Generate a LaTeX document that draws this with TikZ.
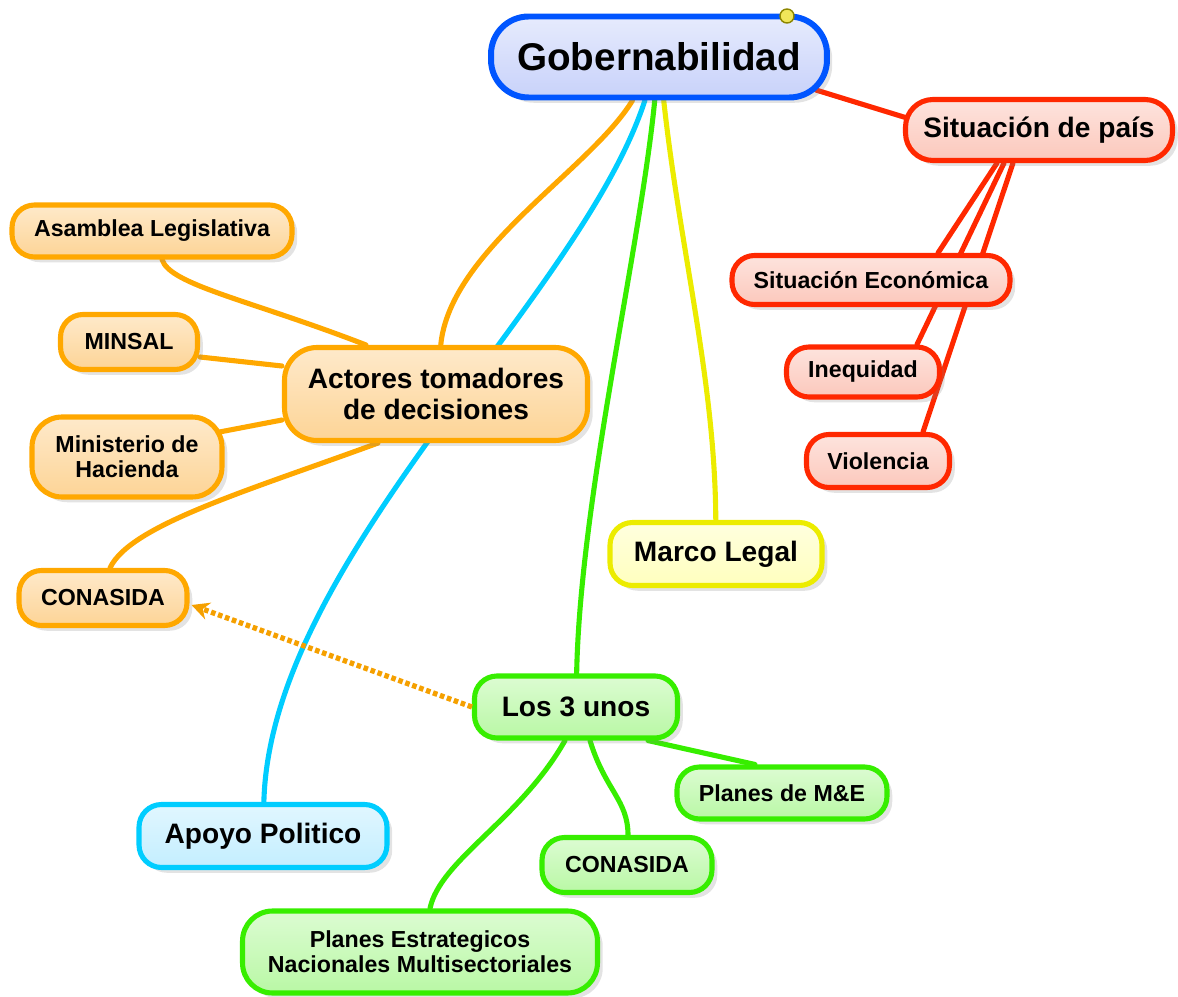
\documentclass[tikz,border=0pt]{standalone}
\usepackage{fontspec}
\setmainfont{Liberation Sans}
\usetikzlibrary{calc,shadows,backgrounds,arrows.meta}

\definecolor{blueline}{RGB}{0,85,255}
\definecolor{bluefill}{RGB}{200,210,250}
\definecolor{redline}{RGB}{255,40,0}
\definecolor{redfill}{RGB}{252,200,188}
\definecolor{orangeline}{RGB}{255,168,0}
\definecolor{orangefill}{RGB}{253,212,150}
\definecolor{dashorange}{RGB}{245,160,0}
\definecolor{yellowline}{RGB}{236,236,0}
\definecolor{yellowfill}{RGB}{255,255,190}
\definecolor{greenline}{RGB}{55,238,0}
\definecolor{greenfill}{RGB}{185,248,165}
\definecolor{cyanline}{RGB}{0,205,255}
\definecolor{cyanfill}{RGB}{195,238,255}
\definecolor{markfill}{RGB}{240,230,90}

\begin{document}
\begin{tikzpicture}[x=0.02cm, y=-0.02cm,
  box/.style={draw, line width=2.9pt, rounded corners=0.45cm, align=center, inner sep=0pt,
    font=\bfseries\fontsize{13.2}{14.4}\selectfont,
    drop shadow={shadow xshift=3pt, shadow yshift=-3pt, opacity=0.22}},
  bigbox/.style={box, font=\bfseries\fontsize{16}{18}\selectfont},
  bluebox/.style={box, draw=blueline, top color=bluefill!45!white, bottom color=bluefill},
  redbox/.style={draw=redline, top color=redfill!50!white, bottom color=redfill},
  orangebox/.style={draw=orangeline, top color=orangefill!50!white, bottom color=orangefill},
  yellowbox/.style={draw=yellowline, top color=yellowfill!50!white, bottom color=yellowfill},
  greenbox/.style={draw=greenline, top color=greenfill!50!white, bottom color=greenfill},
  cyanbox/.style={draw=cyanline, top color=cyanfill!50!white, bottom color=cyanfill},
  link/.style={line width=2.9pt, line cap=round}]
\useasboundingbox (0,0) rectangle (1178,997);
%
\node[bluebox, line width=3.4pt, rounded corners=0.75cm, minimum width=6.72cm, minimum height=1.62cm,
  font=\bfseries\fontsize{22}{24}\selectfont] (gob) at (659,57) {Gobernabilidad};
\draw[olive, fill=markfill, line width=0.8pt] (787,16) circle [radius=0.14cm];
%
\node[bigbox, redbox, rounded corners=0.55cm, minimum width=5.34cm, minimum height=1.22cm] (pais) at (1039,130) {Situación de país};
\node[box, redbox, minimum width=5.56cm, minimum height=0.98cm] (econ) at (871,280) {Situación Económica};
\node[box, redbox, minimum width=3.06cm, minimum height=1.0cm] (ineq) at (863,372) {Inequidad};
\node[box, redbox, minimum width=2.86cm, minimum height=1.06cm] (viol) at (878,461) {Violencia};
%
\node[bigbox, orangebox, rounded corners=0.65cm, minimum width=6.06cm, minimum height=1.86cm] (actores) at (436,394) {Actores tomadores\\de decisiones};
\node[box, orangebox, minimum width=5.6cm, minimum height=1.04cm] (asam) at (152,231) {Asamblea Legislativa};
\node[box, orangebox, minimum width=2.74cm, minimum height=1.1cm] (minsal) at (129,342) {MINSAL};
\node[box, orangebox, rounded corners=0.6cm, minimum width=3.8cm, minimum height=1.6cm] (hacienda) at (127,457) {Ministerio de\\Hacienda};
\node[box, orangebox, minimum width=3.36cm, minimum height=1.1cm] (conA) at (103,598) {CONASIDA};
%
\node[bigbox, yellowbox, minimum width=4.24cm, minimum height=1.26cm] (marco) at (716,554) {Marco Legal};
\node[bigbox, cyanbox, minimum width=4.96cm, minimum height=1.26cm] (apoyo) at (263,836) {Apoyo Politico};
%
\node[bigbox, greenbox, minimum width=4.06cm, minimum height=1.24cm] (unos) at (576,707) {Los 3 unos};
\node[box, greenbox, minimum width=4.2cm, minimum height=1.04cm] (mye) at (782,793) {Planes de M\&E};
\node[box, greenbox, minimum width=3.4cm, minimum height=1.1cm] (conB) at (627,865) {CONASIDA};
\node[box, greenbox, rounded corners=0.6cm, minimum width=7.1cm, minimum height=1.64cm] (pen) at (420,952) {Planes Estrategicos\\Nacionales Multisectoriales};
%
\begin{scope}[on background layer]
\draw[link, redline] ($(gob.east)+(-14,33)$) -- ($(pais.west)+(4,-12)$);
\draw[link, redline] ($(pais.south)+(-42,0)$) -- ($(econ.north)+(67,0)$);
\draw[link, redline] ($(pais.south)+(-35,0)$) -- ($(ineq.north)+(54,0)$);
\draw[link, redline] ($(pais.south)+(-26,0)$) -- ($(viol.north)+(45,0)$);
%
\draw[link, orangeline] (gob) .. controls (590,170) and (450,250) .. (actores);
\draw[link, cyanline] (gob) .. controls (580,300) and (270,560) .. (apoyo);
\draw[link, greenline] (gob) .. controls (640,250) and (580,500) .. (unos);
\draw[link, yellowline] (gob) .. controls (680,250) and (715,380) .. (marco);
%
\draw[link, orangeline] ($(actores.north)+(-70,0)$) .. controls (250,300) and (170,285) .. ($(asam.south)+(10,0)$);
\draw[link, orangeline] ($(actores.west)+(0,-28)$) -- ($(minsal.east)+(0,15)$);
\draw[link, orangeline] ($(actores.west)+(0,26)$) -- ($(hacienda.east)+(-5,-25)$);
\draw[link, orangeline] ($(actores.south)+(-58,0)$) .. controls (250,490) and (130,525) .. ($(conA.north)+(7,0)$);
%
\draw[link, greenline] ($(unos.south)+(72,0)$) -- ($(mye.north)+(-27,0)$);
\draw[link, greenline] ($(unos.south)+(14,0)$) .. controls (605,790) and (628,800) .. ($(conB.north)+(1,0)$);
\draw[link, greenline] ($(unos.south)+(-11,0)$) .. controls (520,820) and (440,860) .. ($(pen.north)+(10,0)$);
\end{scope}
%
\draw[dashorange, line width=3pt, dash pattern=on 2.6pt off 1.6pt, -{Stealth[length=10pt,width=10pt]}] (unos.west) -- ($(conA.east)+(2,7)$);
%%%%%%%%%%%%%%%%%%%%%%%%%%%%%%%
\end{tikzpicture}
\end{document}
